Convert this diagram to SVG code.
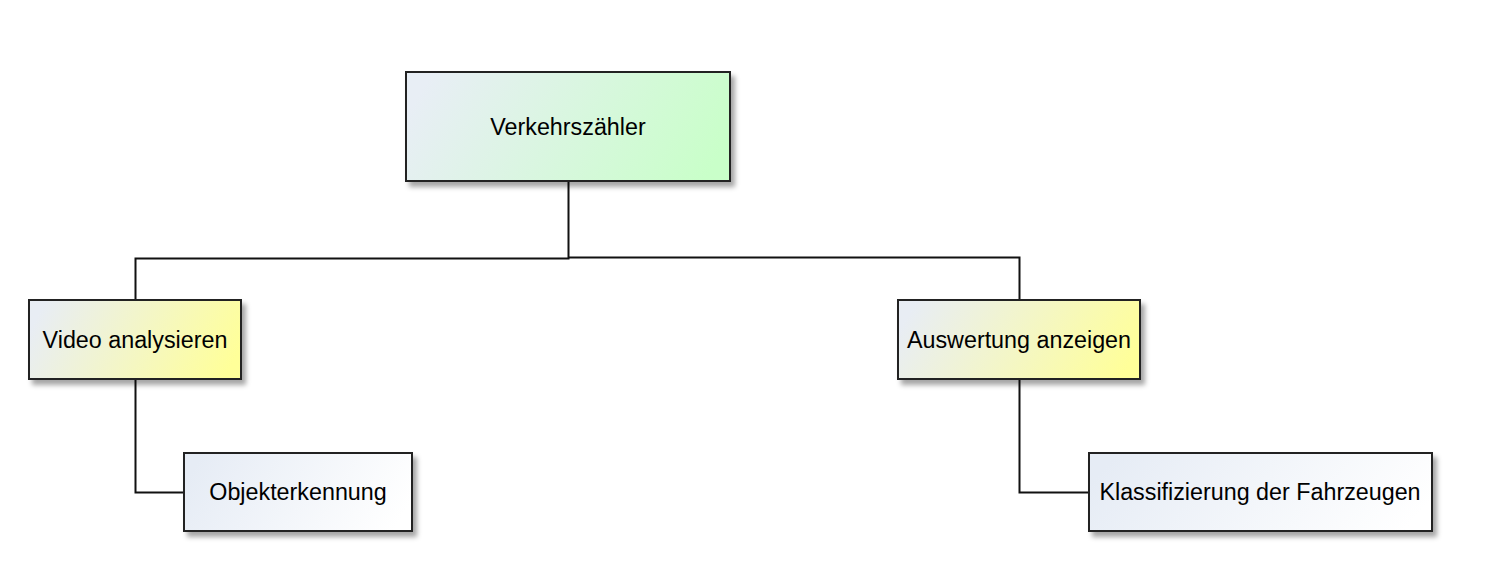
<svg xmlns="http://www.w3.org/2000/svg" width="1486" height="572" viewBox="0 0 1486 572">
<defs>
<linearGradient id="gGreen" x1="0" y1="0.4" x2="1" y2="0.6">
<stop offset="0" stop-color="#e8eef5"/>
<stop offset="1" stop-color="#c9ffc9"/>
</linearGradient>
<linearGradient id="gYellow" x1="0" y1="0.4" x2="1" y2="0.6">
<stop offset="0" stop-color="#e8edf4"/>
<stop offset="1" stop-color="#ffff99"/>
</linearGradient>
<linearGradient id="gWhite" x1="0" y1="0.4" x2="1" y2="0.6">
<stop offset="0" stop-color="#e6ecf5"/>
<stop offset="1" stop-color="#ffffff"/>
</linearGradient>
<filter id="shadow" x="-10%" y="-20%" width="130%" height="150%">
<feDropShadow dx="4" dy="5" stdDeviation="2.5" flood-color="#000" flood-opacity="0.35"/>
</filter>
</defs>
<style>
.box{stroke:#222;stroke-width:2;filter:url(#shadow)}
.lbl{font-family:"Liberation Sans",Arial,sans-serif;font-size:23.3px;fill:#000;text-anchor:middle}
.con{fill:none;stroke:#111;stroke-width:2}
</style>
<rect width="1486" height="572" fill="#ffffff"/>
<g id="connectors">
<polyline class="con" points="568.5,181 568.5,258.5 135.5,258.5 135.5,300"/>
<polyline class="con" points="568.5,257.5 1019.5,257.5 1019.5,300"/>
<polyline class="con" points="135.5,379 135.5,492.5 184,492.5"/>
<polyline class="con" points="1019.5,379 1019.5,492.5 1089,492.5"/>
</g>
<g id="node-verkehrszaehler">
<rect class="box" x="406" y="72" width="324" height="109" fill="url(#gGreen)"/>
<text class="lbl" x="568" y="135">Verkehrszähler</text>
</g>
<g id="node-video">
<rect class="box" x="29" y="300" width="212" height="79" fill="url(#gYellow)"/>
<text class="lbl" x="135" y="348">Video analysieren</text>
</g>
<g id="node-auswertung">
<rect class="box" x="898" y="300" width="242" height="79" fill="url(#gYellow)"/>
<text class="lbl" x="1019" y="348">Auswertung anzeigen</text>
</g>
<g id="node-objekt">
<rect class="box" x="184" y="453" width="228" height="78" fill="url(#gWhite)"/>
<text class="lbl" x="298" y="500">Objekterkennung</text>
</g>
<g id="node-klass">
<rect class="box" x="1089" y="453" width="343" height="78" fill="url(#gWhite)"/>
<text class="lbl" x="1260" y="500">Klassifizierung der Fahrzeugen</text>
</g>
</svg>
